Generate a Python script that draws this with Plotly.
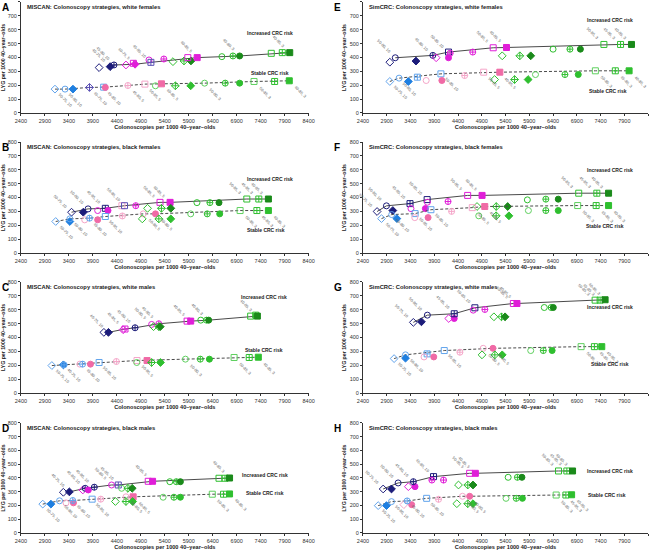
import plotly.graph_objects as go
from plotly.subplots import make_subplots

FONT = "Liberation Sans, Arial, sans-serif"

X_TICKS = [2400, 2900, 3400, 3900, 4400, 4900, 5400, 5900, 6400, 6900, 7400, 7900, 8400]
Y_TICKS = [0, 100, 200, 300, 400, 500, 600, 700, 800]
X_TITLE = "Colonoscopies per 1000 40\u2013year\u2013olds"
Y_TITLE = "LYG per 1000 40\u2013year\u2013olds"
INC_LABEL = "Increased CRC risk"
ST_LABEL = "Stable CRC risk"

# panel order follows make_subplots (row by row, left column first)
PANEL_IDS = ["A", "E", "B", "F", "C", "G", "D", "H"]
PANEL_TITLES = [
    "MISCAN: Colonoscopy strategies, white females",
    "SimCRC: Colonoscopy strategies, white females",
    "MISCAN: Colonoscopy strategies, black females",
    "SimCRC: Colonoscopy strategies, black females",
    "MISCAN: Colonoscopy strategies, white males",
    "SimCRC: Colonoscopy strategies, white males",
    "MISCAN: Colonoscopy strategies, black males",
    "SimCRC: Colonoscopy strategies, black males",
]

# (colonoscopies, LYG, strategy kind, on efficient frontier)
A_INC = [(4030, 327, "do_nv", 0), (4260, 334, "df_nv", 1), (4340, 346, "cx_nv", 1), (4590, 346, "do_mg", 0),
         (4745, 358, "sx_mg", 0), (4780, 351, "df_mg", 1), (5070, 382, "co_mg", 0), (5110, 365, "sx_pv", 1),
         (5380, 389, "cx_mg", 0), (5570, 370, "do_g", 0), (5800, 375, "dx_g", 0), (5945, 375, "df_dg", 0),
         (5880, 399, "so_mg", 0), (6075, 399, "sf_mg", 1), (6590, 406, "co_g", 0), (6820, 411, "cx_g", 0),
         (6960, 411, "cf_dg", 1), (7620, 430, "so_g", 0), (7850, 435, "sx_g", 0), (8005, 435, "sf_dg", 1)]
A_ST = [(3110, 172, "do_lb", 1), (3320, 172, "co_lb", 1), (3485, 172, "df_b", 0), (3830, 184, "dx_pv", 1),
        (4125, 186, "sx_lb", 1), (4160, 184, "cf_pk", 0), (4630, 198, "cx_lp", 1), (4985, 208, "so_lp", 1),
        (5205, 196, "co_lg", 0), (5330, 210, "sf_pk", 1), (5620, 196, "dx_g", 0), (5940, 196, "df_g", 0),
        (6230, 215, "co_lg", 1), (6660, 215, "cx_g", 0), (6960, 215, "cf_g", 0), (7260, 227, "so_lg", 1),
        (7690, 227, "sx_g", 0), (7995, 232, "sf_g", 1)]

E_INC = [(2965, 366, "do_nv", 0), (3080, 398, "co_nv", 1), (3515, 374, "df_nv", 0), (3870, 415, "cx_nv", 1),
         (3940, 398, "do_mg", 0), (4200, 439, "so_nv", 1), (4235, 431, "cx_mg", 0), (4200, 398, "cf_mg", 0),
         (4710, 439, "cx_mg", 0), (5140, 470, "so_mg", 1), (5420, 472, "sf_mg", 1), (5330, 412, "do_g", 0),
         (5700, 412, "dx_g", 0), (5930, 412, "df_dg", 0), (6400, 460, "co_g", 0), (6755, 460, "cx_g", 0),
         (6975, 460, "cf_dg", 0), (7470, 494, "so_g", 1), (7820, 494, "sx_g", 1), (8050, 494, "sf_dg", 1)]
E_ST = [(2965, 227, "do_lb", 1), (3160, 251, "co_lb", 1), (3355, 227, "df_b", 0), (3545, 258, "sx_lb", 0),
        (3730, 234, "co_lp", 0), (4040, 282, "so_lb", 1), (4060, 234, "cf_pk", 0), (4540, 270, "cx_lp", 0),
        (4940, 294, "so_lp", 1), (5280, 294, "sf_pk", 1), (5170, 241, "do_g", 0), (5590, 241, "dx_g", 0),
        (5875, 241, "df_g", 0), (6030, 277, "co_lg", 0), (6650, 277, "cx_g", 0), (6930, 277, "cf_g", 0),
        (7290, 304, "so_lg", 1), (7710, 304, "sx_g", 1), (8000, 304, "sf_g", 1)]

B_INC = [(3455, 294, "do_nv", 1), (3700, 294, "df_nv", 0), (3800, 318, "co_nv", 1), (4160, 322, "sx_nv", 1),
         (4000, 306, "co_mg", 0), (4215, 306, "cf_mg", 0), (4505, 341, "so_lp", 0), (4560, 341, "so_pv", 1),
         (4795, 341, "cx_mg", 0), (5300, 365, "so_mg", 1), (5510, 365, "sf_mg", 1), (5040, 322, "do_g", 0),
         (5330, 322, "dx_g", 0), (5525, 322, "df_dg", 0), (6070, 363, "co_g", 0), (6340, 363, "cx_g", 0),
         (6530, 363, "cf_dg", 0), (7110, 389, "so_g", 1), (7360, 389, "sx_g", 1), (7560, 389, "sf_dg", 1)]
B_ST = [(3125, 227, "do_lb", 1), (3420, 227, "df_b", 0), (3420, 246, "co_lb", 1), (3730, 239, "co_lp", 0),
        (3830, 251, "cx_lb", 1), (4000, 239, "cf_pk", 0), (4160, 263, "so_lb", 1), (4515, 267, "cx_lp", 0),
        (4950, 282, "co_lp", 1), (5205, 282, "cf_pk", 1), (4930, 246, "do_g", 0), (5275, 246, "dx_g", 0),
        (5525, 246, "df_g", 0), (5940, 282, "co_lg", 0), (6285, 282, "cx_g", 0), (6545, 282, "cf_g", 0),
        (6970, 306, "so_lg", 1), (7320, 306, "sx_g", 1), (7560, 306, "sf_g", 1)]

F_INC = [(2697, 299, "do_nv", 1), (2894, 340, "co_nv", 1), (3028, 306, "df_nv", 0), (3390, 356, "sx_nv", 1),
         (3410, 320, "co_mg", 0), (3713, 320, "cf_mg", 0), (3750, 385, "so_nv", 1), (3755, 366, "co_mg", 0),
         (4190, 371, "cx_mg", 0), (4603, 415, "so_mg", 1), (4906, 415, "sf_mg", 1), (4800, 335, "do_g", 0),
         (5205, 335, "dx_g", 0), (5445, 335, "df_dg", 0), (5859, 383, "co_g", 0), (6248, 388, "cx_g", 0),
         (6509, 388, "cf_dg", 0), (6940, 431, "so_g", 1), (7321, 431, "sx_g", 1), (7568, 431, "sf_dg", 1)]
F_ST = [(2790, 248, "do_lb", 1), (3005, 277, "co_lb", 1), (3113, 248, "df_b", 0), (3497, 284, "so_lb", 1),
        (3490, 255, "co_lp", 0), (3770, 255, "cf_pk", 0), (3830, 312, "so_lb", 1), (4265, 300, "cx_lp", 0),
        (4700, 327, "so_lp", 1), (4963, 335, "sf_pk", 1), (4836, 268, "co_lg", 0), (5203, 268, "dx_g", 0),
        (5471, 268, "df_g", 0), (5881, 306, "co_lg", 0), (6248, 306, "cx_g", 0), (6509, 306, "cf_g", 0),
        (6918, 342, "so_lg", 1), (7307, 342, "sx_g", 1), (7568, 342, "sf_g", 1)]

C_INC = [(4130, 437, "do_nv", 0), (4225, 437, "df_nv", 1), (4530, 456, "do_mg", 0), (4570, 461, "sx_mg", 1),
         (4780, 470, "cx_nv", 1), (5125, 494, "co_mg", 1), (5275, 499, "cx_mg", 1), (5165, 478, "do_g", 0),
         (5275, 478, "dx_g", 0), (5305, 478, "df_dg", 0), (5865, 518, "so_mg", 0), (5940, 518, "sf_mg", 1),
         (6150, 525, "co_g", 0), (6270, 525, "cx_g", 0), (6315, 525, "cf_dg", 1), (7190, 554, "so_g", 0),
         (7295, 561, "sx_g", 0), (7330, 554, "sf_dg", 1)]
C_ST = [(3045, 198, "do_lb", 1), (3285, 203, "df_b", 1), (3300, 203, "cx_lb", 0), (3630, 208, "co_lp", 0),
        (3685, 208, "cx_lb", 1), (3850, 208, "cf_pk", 0), (4030, 220, "so_lb", 1), (4390, 227, "cx_lp", 0),
        (4820, 234, "so_lp", 1), (5030, 234, "sf_pk", 0), (4815, 220, "co_lg", 0), (5125, 220, "dx_g", 0),
        (5310, 220, "df_g", 0), (5830, 244, "co_lg", 1), (6140, 244, "cx_g", 0), (6330, 244, "cf_g", 0),
        (6845, 256, "so_lg", 1), (7160, 256, "sx_g", 0), (7350, 258, "sf_g", 1)]

G_INC = [(3460, 509, "do_nv", 1), (3630, 513, "df_nv", 0), (3755, 561, "co_nv", 1), (4205, 537, "do_mg", 0),
         (4320, 537, "cf_mg", 0), (4320, 571, "sx_nv", 1), (4755, 614, "so_nv", 1), (4720, 597, "co_mg", 0),
         (4965, 602, "cx_mg", 0), (5155, 549, "do_g", 0), (5315, 549, "dx_g", 0), (5390, 549, "df_dg", 0),
         (5565, 645, "so_mg", 1), (5640, 645, "sf_mg", 1), (6215, 616, "co_g", 0), (6360, 616, "cx_g", 0),
         (6405, 616, "cf_dg", 0), (7285, 669, "so_g", 1), (7390, 669, "sx_g", 1), (7495, 672, "sf_dg", 1)]
G_ST = [(3055, 248, "do_lb", 1), (3295, 275, "co_lb", 1), (3295, 251, "df_b", 0), (3750, 282, "sx_lb", 0),
        (3685, 260, "co_lp", 0), (3890, 260, "cf_pk", 0), (4110, 306, "so_lb", 1), (4440, 294, "cx_lp", 0),
        (4930, 322, "co_lp", 1), (5135, 322, "cf_pk", 1), (4905, 275, "do_g", 0), (5175, 275, "dx_g", 0),
        (5330, 275, "df_g", 0), (5930, 306, "co_lg", 0), (6195, 306, "cx_g", 0), (6380, 306, "cf_g", 0),
        (6990, 334, "so_lg", 1), (7270, 334, "sx_g", 1), (7425, 334, "sf_g", 1)]

D_INC = [(3285, 296, "do_nv", 0), (3410, 299, "df_nv", 1), (3690, 313, "do_mg", 0), (3740, 325, "cx_nv", 1),
         (3805, 313, "cf_mg", 0), (3930, 333, "cx_nv", 1), (4290, 349, "co_mg", 1), (4430, 349, "sx_pv", 1),
         (4500, 325, "co_lg", 0), (4630, 325, "dx_g", 0), (4720, 325, "df_dg", 0), (5055, 376, "so_mg", 0),
         (5145, 376, "sf_mg", 1), (5505, 373, "co_g", 0), (5640, 373, "cx_g", 0), (5725, 373, "cf_dg", 0),
         (6530, 398, "so_g", 0), (6655, 398, "sx_g", 0), (6750, 400, "sf_dg", 1)]
D_ST = [(2855, 210, "do_lb", 1), (3025, 210, "df_b", 0), (3205, 234, "co_lb", 1), (3340, 219, "co_lp", 0),
        (3495, 219, "cf_pk", 0), (3480, 236, "cx_lb", 1), (3885, 246, "so_lb", 1), (4065, 246, "cx_lp", 0),
        (4370, 229, "do_g", 0), (4590, 263, "co_lp", 1), (4740, 263, "sf_pk", 1), (4590, 229, "dx_g", 0),
        (4730, 229, "df_g", 0), (5365, 260, "co_lg", 0), (5590, 260, "cx_g", 0), (5725, 260, "cf_g", 0),
        (6390, 282, "so_lg", 1), (6625, 282, "sx_g", 0), (6750, 284, "sf_g", 1)]

H_INC = [(2825, 320, "do_nv", 1), (3000, 320, "df_nv", 0), (3140, 364, "co_nv", 1), (3355, 337, "do_mg", 0),
         (3495, 337, "cf_mg", 0), (3460, 373, "cx_nv", 1), (3885, 410, "sx_nv", 1), (3850, 385, "cx_mg", 0),
         (4095, 385, "cx_mg", 0), (4410, 349, "do_g", 0), (4605, 349, "dx_g", 0), (4715, 349, "df_dg", 0),
         (4645, 434, "so_mg", 1), (4765, 434, "sf_mg", 1), (5455, 405, "co_g", 0), (5650, 405, "cx_g", 0),
         (5745, 405, "cf_dg", 0), (6515, 451, "so_g", 1), (6690, 451, "sx_g", 1), (6810, 451, "sf_dg", 1)]
H_ST = [(2720, 199, "do_lb", 1), (2895, 199, "df_b", 0), (3000, 228, "co_lb", 1), (3260, 206, "do_lp", 0),
        (3425, 206, "cf_pk", 0), (3330, 233, "cx_lb", 1), (3740, 252, "so_lb", 1), (3990, 245, "cx_lp", 0),
        (4375, 213, "do_g", 0), (4495, 267, "co_lp", 1), (4645, 267, "cf_pk", 1), (4605, 213, "dx_g", 0),
        (4715, 213, "df_g", 0), (5410, 252, "co_lg", 0), (5625, 252, "cx_g", 0), (5755, 252, "cf_g", 0),
        (6465, 276, "so_lg", 1), (6670, 276, "sx_g", 1), (6790, 278, "sf_g", 1)]

PANEL_DATA = [(A_INC, A_ST), (E_INC, E_ST), (B_INC, B_ST), (F_INC, F_ST),
              (C_INC, C_ST), (G_INC, G_ST), (D_INC, D_ST), (H_INC, H_ST)]

# where the "Increased" / "Stable" captions sit, in data units
INC_LABEL_POS = [(7600, 580), (7590, 668), (7590, 537), (7590, 595), (7470, 692), (7600, 621), (7480, 422), (7590, 453)]
ST_LABEL_POS = [(7590, 291), (7555, 161), (7500, 167), (7500, 198), (7470, 310), (7600, 208), (7480, 294), (7540, 276)]

COLORS = {"nv": "#1c1c7a", "b": "#1f7fe0", "lb": "#62a4ec", "pv": "#5a4fb4",
          "mg": "#e01ed8", "pk": "#f06aa6", "lp": "#f5a6c9",
          "g": "#2fbf2f", "lg": "#5fd05f", "dg": "#1a8a1a"}
SYMBOLS = {"do": "diamond-open", "dx": "diamond-cross-open", "df": "diamond",
           "co": "circle-open", "cx": "circle-cross-open", "cf": "circle",
           "so": "square-open", "sx": "square-cross-open", "sf": "square"}
STOP_AGE = {"d": "75", "c": "80", "s": "85"}
START_AGE = {"o": "50", "x": "45", "f": "40"}
INTERVAL = {"nv": "10", "b": "10", "lb": "10", "pv": "10", "mg": "5", "pk": "5", "lp": "5",
            "g": "3", "lg": "3", "dg": "3"}

X_DOM = [[0.032, 0.472], [0.555, 0.991]]
Y_DOM = [[0.7957, 0.9964], [0.5425, 0.7432], [0.2893, 0.4901], [0.0362, 0.2351]]
LETTER_X = [0.0, 0.508]


def strategy_name(kind):
    shape_fill, col = kind.split("_")
    return f"{START_AGE[shape_fill[1]]}-{STOP_AGE[shape_fill[0]]}, {INTERVAL[col]}"


fig = make_subplots(rows=4, cols=2)
annotations = []

for i, (inc, st) in enumerate(PANEL_DATA):
    r, c = divmod(i, 2)
    n = i + 1
    xr = "x" if n == 1 else f"x{n}"
    yr = "y" if n == 1 else f"y{n}"
    for pts, dash, up in [(inc, "solid", True), (st, "3px,2px", False)]:
        front = sorted([p for p in pts if p[3]], key=lambda p: p[0])
        fig.add_trace(go.Scatter(
            x=[p[0] for p in front], y=[p[1] for p in front], mode="lines",
            line=dict(color="#4a4a4a", width=1, dash=dash), hoverinfo="skip", showlegend=False,
        ), row=r + 1, col=c + 1)
        cols = [COLORS[p[2].split("_")[1]] for p in pts]
        fig.add_trace(go.Scatter(
            x=[p[0] for p in pts], y=[p[1] for p in pts], mode="markers",
            marker=dict(size=6, color=cols, symbol=[SYMBOLS[p[2].split("_")[0]] for p in pts],
                        line=dict(color=cols, width=1)),
            showlegend=False,
        ), row=r + 1, col=c + 1)
        for p in front:
            annotations.append(dict(
                x=p[0], y=p[1], xref=xr, yref=yr, text=strategy_name(p[2]), showarrow=False,
                textangle=45, font=dict(family=FONT, size=4, color="#666666"),
                xshift=-11 if up else 11, yshift=11 if up else -11,
            ))

    ix, iy = INC_LABEL_POS[i]
    sx, sy = ST_LABEL_POS[i]
    for (lx, ly), txt in [((ix, iy), INC_LABEL), ((sx, sy), ST_LABEL)]:
        annotations.append(dict(x=lx, y=ly, xref=xr, yref=yr, text=f"<b>{txt}</b>", showarrow=False,
                                font=dict(family=FONT, size=5, color="#222222")))
    annotations.append(dict(x=0.015, y=1.0, xref=f"{xr} domain", yref=f"{yr} domain", xanchor="left",
                            yanchor="top", text=f"<b>{PANEL_TITLES[i]}</b>", showarrow=False,
                            font=dict(family=FONT, size=5.8, color="#222222")))
    annotations.append(dict(x=LETTER_X[c], y=min(1.0, Y_DOM[r][1] + 0.004), xref="paper", yref="paper",
                            xanchor="left", yanchor="top", text=f"<b>{PANEL_IDS[i]}</b>", showarrow=False,
                            font=dict(family=FONT, size=10, color="#000000")))

    xa = "xaxis" if n == 1 else f"xaxis{n}"
    ya = "yaxis" if n == 1 else f"yaxis{n}"
    fig.layout[xa].update(domain=X_DOM[c], anchor=yr)
    fig.layout[ya].update(domain=Y_DOM[r], anchor=xr)

fig.update_xaxes(
    range=[2400, 8400], tickvals=X_TICKS, showgrid=False, zeroline=False, showline=True,
    linecolor="#333333", linewidth=1, ticks="outside", ticklen=2, tickcolor="#333333",
    tickfont=dict(family=FONT, size=5.5, color="#333333"),
    title=dict(text=f"<b>{X_TITLE}</b>", standoff=2, font=dict(family=FONT, size=5.6, color="#222222")),
    automargin=False,
)
fig.update_yaxes(
    range=[0, 800], tickvals=Y_TICKS, showgrid=False, zeroline=False, showline=True,
    linecolor="#333333", linewidth=1, ticks="outside", ticklen=2, tickcolor="#333333",
    tickfont=dict(family=FONT, size=5.5, color="#333333"),
    title=dict(text=f"<b>{Y_TITLE}</b>", standoff=2, font=dict(family=FONT, size=5.2, color="#222222")),
    automargin=False,
)

fig.update_layout(
    width=654, height=553, margin=dict(l=0, r=0, t=0, b=0),
    paper_bgcolor="white", plot_bgcolor="white",
    font=dict(family=FONT), annotations=annotations,
)

# the page body keeps its default 8px margin otherwise
fig.write_html("out.html", config={"displayModeBar": False},
               post_script="document.body.style.margin='0px';")
